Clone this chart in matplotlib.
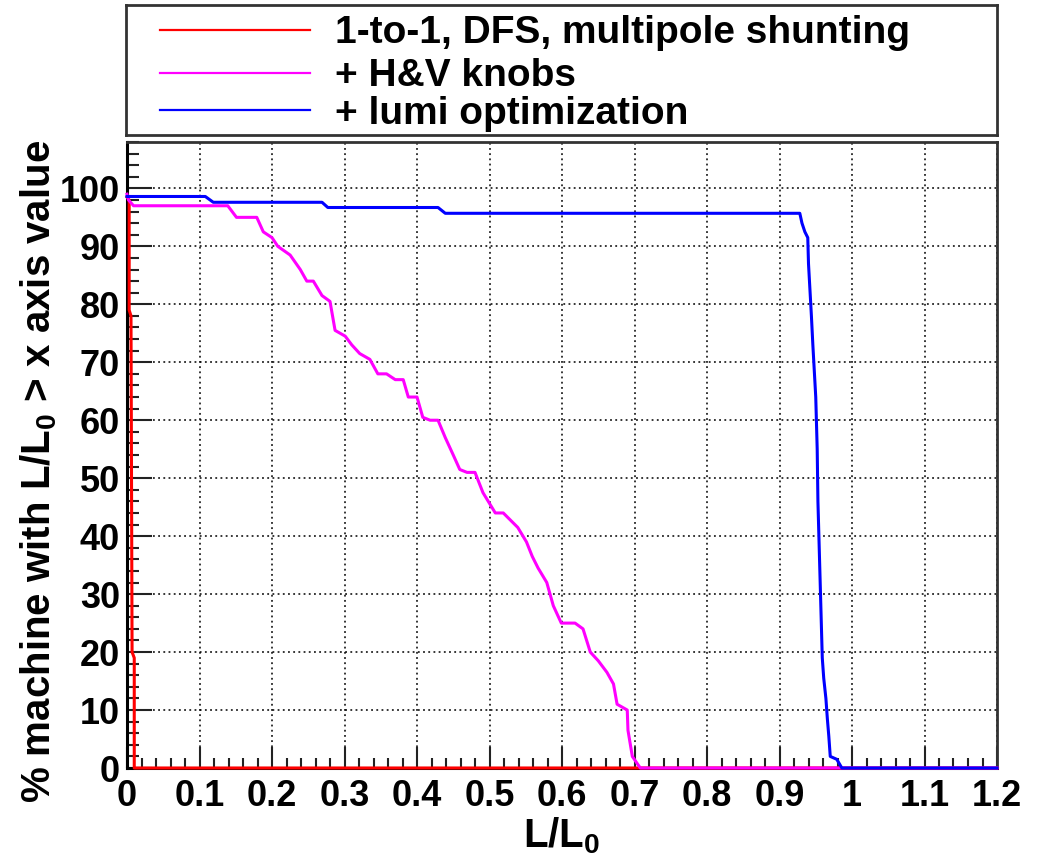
#!/usr/bin/env python3
import numpy as np
import matplotlib
matplotlib.use("Agg")
import matplotlib.pyplot as plt
from matplotlib.ticker import MultipleLocator, FuncFormatter

plt.rcParams['font.family'] = ['Liberation Sans', 'DejaVu Sans']
plt.rcParams['font.weight'] = 'bold'
plt.rcParams['mathtext.fontset'] = 'custom'
plt.rcParams['mathtext.rm'] = 'Liberation Sans:bold'
plt.rcParams['mathtext.default'] = 'rm'

# ---------------------------------------------------
# Cumulative fraction of machines above a given L/L0
# ---------------------------------------------------
labels = ["1-to-1, DFS, multipole shunting", "+ H&V knobs", "+ lumi optimization"]
colors = ["#ff0000", "#ff00ff", "#0000ff"]

dfs_x = [0.0, 0.003, 0.003, 0.0055, 0.007, 0.010, 0.010, 1.2]
dfs_y = [98.5, 98, 79, 78, 20, 19, 0, 0]

knobs_x = [0.0, 0.002, 0.009, 0.139, 0.151, 0.179, 0.188, 0.200, 0.208, 0.225,
           0.239, 0.248, 0.257, 0.269, 0.280, 0.287, 0.301, 0.310, 0.321, 0.335,
           0.346, 0.358, 0.370, 0.381, 0.388, 0.400, 0.408, 0.418, 0.429, 0.439,
           0.450, 0.459, 0.469, 0.480, 0.491, 0.508, 0.519, 0.539, 0.551, 0.559,
           0.567, 0.579, 0.588, 0.599, 0.618, 0.629, 0.639, 0.650, 0.662, 0.671,
           0.676, 0.690, 0.691, 0.697, 0.708, 1.2]
knobs_y = [99, 98, 97, 97, 95, 95, 92.5, 91.5, 90, 88.5,
           86, 84, 84, 81.5, 80.5, 75.5, 74.5, 73, 71.5, 70.5,
           68, 68, 67, 67, 64, 64, 60.5, 60, 60, 57,
           54, 51.5, 51, 51, 47.5, 44, 44, 41.5, 39, 36.5,
           34.5, 32, 28, 25, 25, 24, 20, 18.5, 16.5, 14.5,
           11, 10, 6.5, 2, 0, 0]

lumi_x = [0.0, 0.108, 0.119, 0.269, 0.277, 0.429, 0.439, 0.928, 0.931, 0.935,
          0.939, 0.940, 0.942, 0.944, 0.946, 0.948, 0.950, 0.952, 0.953, 0.955,
          0.957, 0.959, 0.961, 0.964, 0.966, 0.968, 0.970, 0.979, 0.986, 1.2]
lumi_y = [98.6, 98.6, 97.6, 97.6, 96.7, 96.7, 95.7, 95.7, 94, 92.5,
          91.5, 87, 82.5, 78, 73, 68.5, 64, 55, 46, 37,
          28, 19, 15.5, 12, 8.5, 5.5, 2, 1.5, 0, 0]

series = [(dfs_x, dfs_y), (knobs_x, knobs_y), (lumi_x, lumi_y)]


def main():
    fig = plt.figure(figsize=(10.39, 8.67), dpi=100)
    W, H = 1039.0, 867.0

    # main frame
    ax = fig.add_axes([127 / W, (H - 768) / H, 870 / W, 626 / H])
    for (xs, ys), c in zip(series, colors):
        ax.plot(xs, ys, color=c, lw=2.2, clip_on=False, zorder=3)

    ax.set_xlim(0, 1.2)
    ax.set_ylim(0, 108)

    ax.xaxis.set_major_locator(MultipleLocator(0.1))
    ax.xaxis.set_minor_locator(MultipleLocator(0.02))
    ax.yaxis.set_major_locator(MultipleLocator(10))
    ax.yaxis.set_minor_locator(MultipleLocator(2))
    fmt = FuncFormatter(lambda v, p: f"{round(v, 6):g}")
    ax.xaxis.set_major_formatter(fmt)
    ax.yaxis.set_major_formatter(fmt)

    ax.tick_params(which='both', direction='in', top=False, right=False,
                   colors='#222222', labelcolor='black', width=1.5)
    ax.tick_params(axis='x', which='major', length=15, pad=8, labelsize=26)
    ax.tick_params(axis='x', which='minor', length=7.5)
    ax.tick_params(axis='y', which='major', length=18, pad=5, labelsize=26)
    ax.tick_params(axis='y', which='minor', length=8.5)

    ax.grid(True, which='major', color='black', lw=1.1, linestyle=(0, (1.2, 2.2)))
    ax.set_axisbelow(True)

    for side in ('left', 'bottom'):
        ax.spines[side].set_linewidth(2.2)
        ax.spines[side].set_color('black')
    for side in ('top', 'right'):
        ax.spines[side].set_linewidth(2.0)
        ax.spines[side].set_color('#333333')

    ax.set_xlabel("L/L$_0$", fontsize=29, fontweight='bold')
    ax.xaxis.set_label_coords(0.5, -0.075)
    ax.text(-0.102, 1.003, "% machine with L/L$_0$ > x axis value",
            transform=ax.transAxes, rotation=90, ha='center', va='top',
            fontsize=29, fontweight='bold')

    # legend box above the frame
    lax = fig.add_axes([126 / W, (H - 135) / H, 871 / W, 130 / H])
    lax.set_xlim(0, 1)
    lax.set_ylim(0, 1)
    lax.set_xticks([])
    lax.set_yticks([])
    for sp in lax.spines.values():
        sp.set_color('#333333')
        sp.set_linewidth(2.0)
    rows = [0.81, 0.48, 0.19]
    for lab, c, yy in zip(labels, colors, rows):
        lax.plot([0.039, 0.211], [yy, yy], color=c, lw=1.6)
        lax.text(0.24, yy - 0.025, lab, fontsize=28, fontweight='bold',
                 va='center', ha='left')

    fig.savefig('out.png', dpi=100)
    plt.close(fig)


if __name__ == "__main__":
    main()
